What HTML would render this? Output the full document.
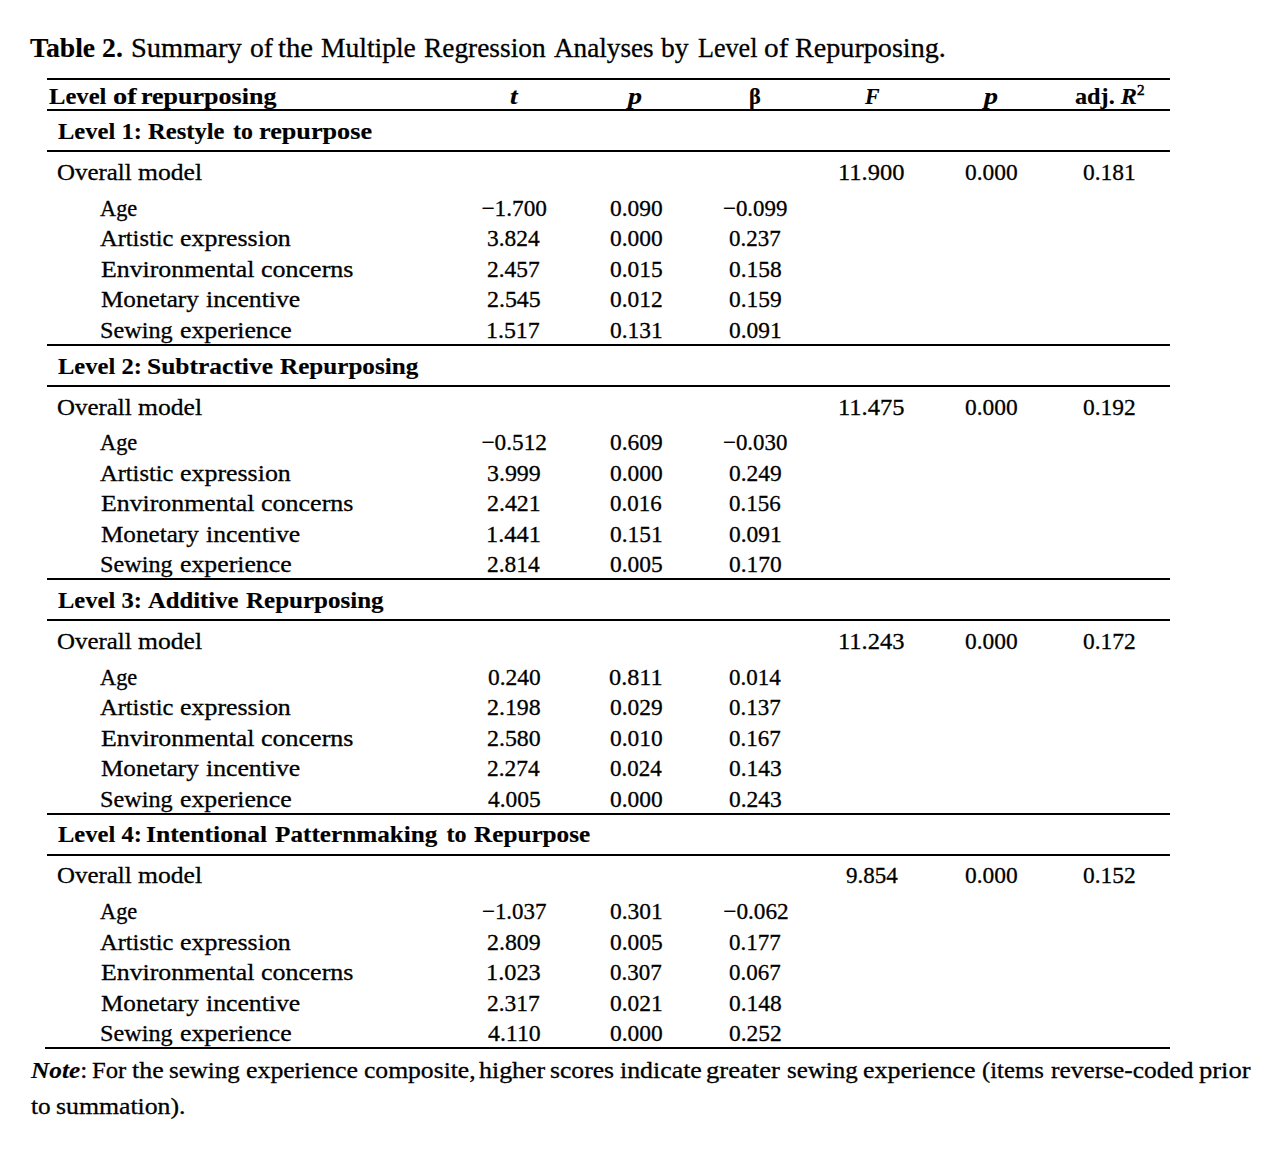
<!DOCTYPE html>
<html lang='en'><head><meta charset='utf-8'><title>Table 2</title><style>
html,body{margin:0;padding:0;background:#fff;}
body{width:1280px;height:1162px;position:relative;overflow:hidden;font-family:"Liberation Serif",serif;color:#000;}
.t{position:absolute;white-space:nowrap;line-height:1;transform-origin:0 0;display:block;-webkit-text-stroke:0.3px #000;}
.t b{-webkit-text-stroke:0.15px #000;}
.ln{position:absolute;height:2px;background:#000;}
.sup{font-size:0.625em;position:relative;top:-0.59em;line-height:0;font-weight:normal;-webkit-text-stroke:0.55px #000;}
</style></head><body>
<div class='ln' style='left:47px;top:78px;width:1123px'></div>
<div class='ln' style='left:47px;top:109px;width:1123px'></div>
<div class='ln' style='left:47px;top:150px;width:1123px'></div>
<div class='ln' style='left:47px;top:385px;width:1123px'></div>
<div class='ln' style='left:47px;top:619px;width:1123px'></div>
<div class='ln' style='left:47px;top:854px;width:1123px'></div>
<div class='ln' style='left:47px;top:344px;width:1123px'></div>
<div class='ln' style='left:47px;top:578px;width:1123px'></div>
<div class='ln' style='left:47px;top:813px;width:1123px'></div>
<div class='ln' style='left:45px;top:1047px;width:1125px'></div>
<div class='t' style='left:30.39px;top:35.00px;font-size:27.0px;transform:scaleX(1.0250);'><b>Table 2.</b></div>
<div class='t' style='left:131.20px;top:35.00px;font-size:27.0px;transform:scaleX(1.0534);'>Summary</div>
<div class='t' style='left:249.60px;top:35.00px;font-size:27.0px;transform:scaleX(1.0222);'>of</div>
<div class='t' style='left:278.20px;top:35.00px;font-size:27.0px;transform:scaleX(1.0606);'>the</div>
<div class='t' style='left:321.20px;top:35.00px;font-size:27.0px;transform:scaleX(1.0194);'>Multiple</div>
<div class='t' style='left:424.00px;top:35.00px;font-size:27.0px;transform:scaleX(1.0135);'>Regression</div>
<div class='t' style='left:554.20px;top:35.00px;font-size:27.0px;transform:scaleX(1.0063);'>Analyses</div>
<div class='t' style='left:661.40px;top:35.00px;font-size:27.0px;transform:scaleX(1.0223);'>by</div>
<div class='t' style='left:697.99px;top:35.00px;font-size:27.0px;transform:scaleX(0.9664);'>Level</div>
<div class='t' style='left:763.75px;top:35.00px;font-size:27.0px;transform:scaleX(1.0859);'>of</div>
<div class='t' style='left:794.60px;top:35.00px;font-size:27.0px;transform:scaleX(1.0419);'>Repurposing.</div>
<div class='t' style='left:49.19px;top:84.00px;font-size:24.0px;transform:scaleX(1.0254);'><b>Level</b></div>
<div class='t' style='left:113.19px;top:84.00px;font-size:24.0px;transform:scaleX(1.1815);'><b>of</b></div>
<div class='t' style='left:140.80px;top:84.00px;font-size:24.0px;transform:scaleX(1.0839);'><b>repurposing</b></div>
<div class='t' style='left:509.70px;top:84.00px;font-size:24.0px;transform:scaleX(1.1391);'><b><i>t</i></b></div>
<div class='t' style='left:628.00px;top:84.00px;font-size:24.0px;transform:scaleX(1.1667);'><b><i>p</i></b></div>
<div class='t' style='left:749.40px;top:84.00px;font-size:24.0px;transform:scaleX(0.9323);'><b>β</b></div>
<div class='t' style='left:865.00px;top:84.00px;font-size:24.0px;transform:scaleX(0.9116);'><b><i>F</i></b></div>
<div class='t' style='left:983.70px;top:84.00px;font-size:24.0px;transform:scaleX(1.1667);'><b><i>p</i></b></div>
<div class='t' style='left:1075.25px;top:84.00px;font-size:24.0px;transform:scaleX(1.0093);'><b>adj. <i>R</i><span class='sup'>2</span></b></div>
<div class='t' style='left:57.79px;top:119.00px;font-size:24.0px;transform:scaleX(1.0227);'><b>Level 1:</b></div>
<div class='t' style='left:148.20px;top:119.00px;font-size:24.0px;transform:scaleX(1.0236);'><b>Restyle</b></div>
<div class='t' style='left:233.19px;top:119.00px;font-size:24.0px;transform:scaleX(0.9909);'><b>to</b></div>
<div class='t' style='left:259.00px;top:119.00px;font-size:24.0px;transform:scaleX(1.0912);'><b>repurpose</b></div>
<div class='t' style='left:56.99px;top:160.00px;font-size:24.0px;transform:scaleX(1.0368);'>Overall</div>
<div class='t' style='left:138.00px;top:160.00px;font-size:24.0px;transform:scaleX(1.0667);'>model</div>
<div class='t' style='left:838.46px;top:161.00px;font-size:23.25px;transform:scaleX(1.0533);'>11.900</div>
<div class='t' style='left:964.54px;top:161.00px;font-size:23.25px;transform:scaleX(1.0077);'>0.000</div>
<div class='t' style='left:1083.14px;top:161.00px;font-size:23.25px;transform:scaleX(1.0077);'>0.181</div>
<div class='t' style='left:99.81px;top:196.00px;font-size:24.0px;transform:scaleX(0.9307);'>Age</div>
<div class='t' style='left:481.49px;top:197.00px;font-size:23.25px;'>−1.700</div>
<div class='t' style='left:609.54px;top:197.00px;font-size:23.25px;transform:scaleX(1.0077);'>0.090</div>
<div class='t' style='left:723.30px;top:197.00px;font-size:23.25px;transform:scaleX(0.9843);'>−0.099</div>
<div class='t' style='left:99.80px;top:226.00px;font-size:24.0px;transform:scaleX(1.0195);'>Artistic</div>
<div class='t' style='left:179.59px;top:226.00px;font-size:24.0px;transform:scaleX(1.0794);'>expression</div>
<div class='t' style='left:487.36px;top:227.00px;font-size:23.25px;transform:scaleX(1.0077);'>3.824</div>
<div class='t' style='left:609.54px;top:227.00px;font-size:23.25px;transform:scaleX(1.0077);'>0.000</div>
<div class='t' style='left:729.15px;top:227.00px;font-size:23.25px;transform:scaleX(0.9887);'>0.237</div>
<div class='t' style='left:101.20px;top:257.00px;font-size:24.0px;transform:scaleX(1.0754);'>Environmental</div>
<div class='t' style='left:260.78px;top:257.00px;font-size:24.0px;transform:scaleX(1.0835);'>concerns</div>
<div class='t' style='left:487.36px;top:258.00px;font-size:23.25px;transform:scaleX(1.0077);'>2.457</div>
<div class='t' style='left:609.54px;top:258.00px;font-size:23.25px;transform:scaleX(1.0077);'>0.015</div>
<div class='t' style='left:729.14px;top:258.00px;font-size:23.25px;transform:scaleX(1.0077);'>0.158</div>
<div class='t' style='left:101.20px;top:287.00px;font-size:24.0px;transform:scaleX(1.0481);'>Monetary</div>
<div class='t' style='left:205.80px;top:287.00px;font-size:24.0px;transform:scaleX(1.0709);'>incentive</div>
<div class='t' style='left:487.33px;top:288.00px;font-size:23.25px;transform:scaleX(1.0270);'>2.545</div>
<div class='t' style='left:609.54px;top:288.00px;font-size:23.25px;transform:scaleX(1.0077);'>0.012</div>
<div class='t' style='left:729.14px;top:288.00px;font-size:23.25px;transform:scaleX(1.0077);'>0.159</div>
<div class='t' style='left:99.78px;top:318.00px;font-size:24.0px;transform:scaleX(1.0087);'>Sewing</div>
<div class='t' style='left:179.59px;top:318.00px;font-size:24.0px;transform:scaleX(1.0741);'>experience</div>
<div class='t' style='left:486.32px;top:319.00px;font-size:23.25px;transform:scaleX(1.0274);'>1.517</div>
<div class='t' style='left:609.53px;top:319.00px;font-size:23.25px;transform:scaleX(1.0077);'>0.131</div>
<div class='t' style='left:729.14px;top:319.00px;font-size:23.25px;transform:scaleX(1.0077);'>0.091</div>
<div class='t' style='left:57.79px;top:354.00px;font-size:24.0px;transform:scaleX(1.0227);'><b>Level 2:</b></div>
<div class='t' style='left:147.19px;top:354.00px;font-size:24.0px;transform:scaleX(1.0620);'><b>Subtractive</b></div>
<div class='t' style='left:280.00px;top:354.00px;font-size:24.0px;transform:scaleX(1.0466);'><b>Repurposing</b></div>
<div class='t' style='left:56.99px;top:395.00px;font-size:24.0px;transform:scaleX(1.0368);'>Overall</div>
<div class='t' style='left:138.00px;top:395.00px;font-size:24.0px;transform:scaleX(1.0667);'>model</div>
<div class='t' style='left:838.46px;top:396.00px;font-size:23.25px;transform:scaleX(1.0533);'>11.475</div>
<div class='t' style='left:964.54px;top:396.00px;font-size:23.25px;transform:scaleX(1.0077);'>0.000</div>
<div class='t' style='left:1083.14px;top:396.00px;font-size:23.25px;transform:scaleX(1.0077);'>0.192</div>
<div class='t' style='left:99.81px;top:430.00px;font-size:24.0px;transform:scaleX(0.9307);'>Age</div>
<div class='t' style='left:481.50px;top:431.00px;font-size:23.25px;'>−0.512</div>
<div class='t' style='left:609.54px;top:431.00px;font-size:23.25px;transform:scaleX(1.0077);'>0.609</div>
<div class='t' style='left:723.30px;top:431.00px;font-size:23.25px;transform:scaleX(0.9843);'>−0.030</div>
<div class='t' style='left:99.80px;top:461.00px;font-size:24.0px;transform:scaleX(1.0195);'>Artistic</div>
<div class='t' style='left:179.59px;top:461.00px;font-size:24.0px;transform:scaleX(1.0794);'>expression</div>
<div class='t' style='left:487.33px;top:462.00px;font-size:23.25px;transform:scaleX(1.0270);'>3.999</div>
<div class='t' style='left:609.54px;top:462.00px;font-size:23.25px;transform:scaleX(1.0077);'>0.000</div>
<div class='t' style='left:729.14px;top:462.00px;font-size:23.25px;transform:scaleX(1.0077);'>0.249</div>
<div class='t' style='left:101.20px;top:491.00px;font-size:24.0px;transform:scaleX(1.0754);'>Environmental</div>
<div class='t' style='left:260.78px;top:491.00px;font-size:24.0px;transform:scaleX(1.0835);'>concerns</div>
<div class='t' style='left:487.33px;top:492.00px;font-size:23.25px;transform:scaleX(1.0274);'>2.421</div>
<div class='t' style='left:609.54px;top:492.00px;font-size:23.25px;transform:scaleX(0.9887);'>0.016</div>
<div class='t' style='left:729.15px;top:492.00px;font-size:23.25px;transform:scaleX(0.9887);'>0.156</div>
<div class='t' style='left:101.20px;top:522.00px;font-size:24.0px;transform:scaleX(1.0481);'>Monetary</div>
<div class='t' style='left:205.80px;top:522.00px;font-size:24.0px;transform:scaleX(1.0709);'>incentive</div>
<div class='t' style='left:486.28px;top:523.00px;font-size:23.25px;transform:scaleX(1.0480);'>1.441</div>
<div class='t' style='left:609.53px;top:523.00px;font-size:23.25px;transform:scaleX(1.0077);'>0.151</div>
<div class='t' style='left:729.14px;top:523.00px;font-size:23.25px;transform:scaleX(1.0077);'>0.091</div>
<div class='t' style='left:99.78px;top:552.00px;font-size:24.0px;transform:scaleX(1.0087);'>Sewing</div>
<div class='t' style='left:179.59px;top:552.00px;font-size:24.0px;transform:scaleX(1.0741);'>experience</div>
<div class='t' style='left:487.36px;top:553.00px;font-size:23.25px;transform:scaleX(1.0077);'>2.814</div>
<div class='t' style='left:609.54px;top:553.00px;font-size:23.25px;transform:scaleX(1.0077);'>0.005</div>
<div class='t' style='left:729.14px;top:553.00px;font-size:23.25px;transform:scaleX(1.0077);'>0.170</div>
<div class='t' style='left:57.79px;top:588.00px;font-size:24.0px;transform:scaleX(1.0227);'><b>Level 3:</b></div>
<div class='t' style='left:148.20px;top:588.00px;font-size:24.0px;transform:scaleX(1.0271);'><b>Additive</b></div>
<div class='t' style='left:246.00px;top:588.00px;font-size:24.0px;transform:scaleX(1.0421);'><b>Repurposing</b></div>
<div class='t' style='left:56.99px;top:629.00px;font-size:24.0px;transform:scaleX(1.0368);'>Overall</div>
<div class='t' style='left:138.00px;top:629.00px;font-size:24.0px;transform:scaleX(1.0667);'>model</div>
<div class='t' style='left:838.46px;top:630.00px;font-size:23.25px;transform:scaleX(1.0533);'>11.243</div>
<div class='t' style='left:964.54px;top:630.00px;font-size:23.25px;transform:scaleX(1.0077);'>0.000</div>
<div class='t' style='left:1083.14px;top:630.00px;font-size:23.25px;transform:scaleX(1.0077);'>0.172</div>
<div class='t' style='left:99.81px;top:665.00px;font-size:24.0px;transform:scaleX(0.9307);'>Age</div>
<div class='t' style='left:488.35px;top:666.00px;font-size:23.25px;transform:scaleX(1.0077);'>0.240</div>
<div class='t' style='left:608.54px;top:666.00px;font-size:23.25px;transform:scaleX(1.0442);'>0.811</div>
<div class='t' style='left:729.15px;top:666.00px;font-size:23.25px;transform:scaleX(0.9890);'>0.014</div>
<div class='t' style='left:99.80px;top:695.00px;font-size:24.0px;transform:scaleX(1.0195);'>Artistic</div>
<div class='t' style='left:179.59px;top:695.00px;font-size:24.0px;transform:scaleX(1.0794);'>expression</div>
<div class='t' style='left:487.33px;top:696.00px;font-size:23.25px;transform:scaleX(1.0270);'>2.198</div>
<div class='t' style='left:609.54px;top:696.00px;font-size:23.25px;transform:scaleX(1.0077);'>0.029</div>
<div class='t' style='left:729.15px;top:696.00px;font-size:23.25px;transform:scaleX(0.9887);'>0.137</div>
<div class='t' style='left:101.20px;top:726.00px;font-size:24.0px;transform:scaleX(1.0754);'>Environmental</div>
<div class='t' style='left:260.78px;top:726.00px;font-size:24.0px;transform:scaleX(1.0835);'>concerns</div>
<div class='t' style='left:487.33px;top:727.00px;font-size:23.25px;transform:scaleX(1.0270);'>2.580</div>
<div class='t' style='left:609.54px;top:727.00px;font-size:23.25px;transform:scaleX(1.0077);'>0.010</div>
<div class='t' style='left:729.15px;top:727.00px;font-size:23.25px;transform:scaleX(0.9887);'>0.167</div>
<div class='t' style='left:101.20px;top:756.00px;font-size:24.0px;transform:scaleX(1.0481);'>Monetary</div>
<div class='t' style='left:205.80px;top:756.00px;font-size:24.0px;transform:scaleX(1.0709);'>incentive</div>
<div class='t' style='left:487.36px;top:757.00px;font-size:23.25px;transform:scaleX(1.0077);'>2.274</div>
<div class='t' style='left:609.55px;top:757.00px;font-size:23.25px;transform:scaleX(0.9890);'>0.024</div>
<div class='t' style='left:729.14px;top:757.00px;font-size:23.25px;transform:scaleX(1.0077);'>0.143</div>
<div class='t' style='left:99.78px;top:787.00px;font-size:24.0px;transform:scaleX(1.0087);'>Sewing</div>
<div class='t' style='left:179.59px;top:787.00px;font-size:24.0px;transform:scaleX(1.0741);'>experience</div>
<div class='t' style='left:488.35px;top:788.00px;font-size:23.25px;transform:scaleX(1.0077);'>4.005</div>
<div class='t' style='left:609.54px;top:788.00px;font-size:23.25px;transform:scaleX(1.0077);'>0.000</div>
<div class='t' style='left:729.14px;top:788.00px;font-size:23.25px;transform:scaleX(1.0077);'>0.243</div>
<div class='t' style='left:57.79px;top:822.00px;font-size:24.0px;transform:scaleX(1.0227);'><b>Level 4:</b></div>
<div class='t' style='left:146.39px;top:822.00px;font-size:24.0px;transform:scaleX(1.0693);'><b>Intentional</b></div>
<div class='t' style='left:275.40px;top:822.00px;font-size:24.0px;transform:scaleX(1.0501);'><b>Patternmaking</b></div>
<div class='t' style='left:446.60px;top:822.00px;font-size:24.0px;'><b>to</b></div>
<div class='t' style='left:474.00px;top:822.00px;font-size:24.0px;transform:scaleX(1.0500);'><b>Repurpose</b></div>
<div class='t' style='left:56.99px;top:863.00px;font-size:24.0px;transform:scaleX(1.0368);'>Overall</div>
<div class='t' style='left:138.00px;top:863.00px;font-size:24.0px;transform:scaleX(1.0667);'>model</div>
<div class='t' style='left:846.36px;top:864.00px;font-size:23.25px;transform:scaleX(0.9890);'>9.854</div>
<div class='t' style='left:964.54px;top:864.00px;font-size:23.25px;transform:scaleX(1.0077);'>0.000</div>
<div class='t' style='left:1083.14px;top:864.00px;font-size:23.25px;transform:scaleX(1.0077);'>0.152</div>
<div class='t' style='left:99.81px;top:899.00px;font-size:24.0px;transform:scaleX(0.9307);'>Age</div>
<div class='t' style='left:481.50px;top:900.00px;font-size:23.25px;transform:scaleX(0.9843);'>−1.037</div>
<div class='t' style='left:609.53px;top:900.00px;font-size:23.25px;transform:scaleX(1.0077);'>0.301</div>
<div class='t' style='left:723.30px;top:900.00px;font-size:23.25px;'>−0.062</div>
<div class='t' style='left:99.80px;top:930.00px;font-size:24.0px;transform:scaleX(1.0195);'>Artistic</div>
<div class='t' style='left:179.59px;top:930.00px;font-size:24.0px;transform:scaleX(1.0794);'>expression</div>
<div class='t' style='left:487.33px;top:931.00px;font-size:23.25px;transform:scaleX(1.0270);'>2.809</div>
<div class='t' style='left:609.54px;top:931.00px;font-size:23.25px;transform:scaleX(1.0077);'>0.005</div>
<div class='t' style='left:729.15px;top:931.00px;font-size:23.25px;transform:scaleX(0.9887);'>0.177</div>
<div class='t' style='left:101.20px;top:960.00px;font-size:24.0px;transform:scaleX(1.0754);'>Environmental</div>
<div class='t' style='left:260.78px;top:960.00px;font-size:24.0px;transform:scaleX(1.0835);'>concerns</div>
<div class='t' style='left:486.28px;top:961.00px;font-size:23.25px;transform:scaleX(1.0472);'>1.023</div>
<div class='t' style='left:609.54px;top:961.00px;font-size:23.25px;transform:scaleX(0.9887);'>0.307</div>
<div class='t' style='left:729.15px;top:961.00px;font-size:23.25px;transform:scaleX(0.9887);'>0.067</div>
<div class='t' style='left:101.20px;top:991.00px;font-size:24.0px;transform:scaleX(1.0481);'>Monetary</div>
<div class='t' style='left:205.80px;top:991.00px;font-size:24.0px;transform:scaleX(1.0709);'>incentive</div>
<div class='t' style='left:487.36px;top:992.00px;font-size:23.25px;transform:scaleX(1.0077);'>2.317</div>
<div class='t' style='left:609.53px;top:992.00px;font-size:23.25px;transform:scaleX(1.0077);'>0.021</div>
<div class='t' style='left:729.14px;top:992.00px;font-size:23.25px;transform:scaleX(1.0077);'>0.148</div>
<div class='t' style='left:99.78px;top:1021.00px;font-size:24.0px;transform:scaleX(1.0087);'>Sewing</div>
<div class='t' style='left:179.59px;top:1021.00px;font-size:24.0px;transform:scaleX(1.0741);'>experience</div>
<div class='t' style='left:488.35px;top:1022.00px;font-size:23.25px;transform:scaleX(1.0245);'>4.110</div>
<div class='t' style='left:609.54px;top:1022.00px;font-size:23.25px;transform:scaleX(1.0077);'>0.000</div>
<div class='t' style='left:729.14px;top:1022.00px;font-size:23.25px;transform:scaleX(1.0077);'>0.252</div>
<div class='t' style='left:31.19px;top:1058.00px;font-size:24.0px;transform:scaleX(1.0548);'><b><i>Note</i></b>:</div>
<div class='t' style='left:92.19px;top:1058.00px;font-size:24.0px;transform:scaleX(1.0261);'>For</div>
<div class='t' style='left:132.00px;top:1058.00px;font-size:24.0px;transform:scaleX(1.0782);'>the</div>
<div class='t' style='left:169.20px;top:1058.00px;font-size:24.0px;transform:scaleX(1.0414);'>sewing</div>
<div class='t' style='left:245.99px;top:1058.00px;font-size:24.0px;transform:scaleX(1.0778);'>experience</div>
<div class='t' style='left:364.18px;top:1058.00px;font-size:24.0px;transform:scaleX(1.0666);'>composite,</div>
<div class='t' style='left:479.40px;top:1058.00px;font-size:24.0px;transform:scaleX(1.0798);'>higher</div>
<div class='t' style='left:550.39px;top:1058.00px;font-size:24.0px;transform:scaleX(1.0672);'>scores</div>
<div class='t' style='left:620.00px;top:1058.00px;font-size:24.0px;transform:scaleX(1.0768);'>indicate</div>
<div class='t' style='left:705.99px;top:1058.00px;font-size:24.0px;transform:scaleX(1.1080);'>greater</div>
<div class='t' style='left:787.18px;top:1058.00px;font-size:24.0px;transform:scaleX(1.0414);'>sewing</div>
<div class='t' style='left:862.59px;top:1058.00px;font-size:24.0px;transform:scaleX(1.0817);'>experience</div>
<div class='t' style='left:981.98px;top:1058.00px;font-size:24.0px;transform:scaleX(1.0306);'>(items</div>
<div class='t' style='left:1050.60px;top:1058.00px;font-size:24.0px;transform:scaleX(1.0581);'>reverse-coded</div>
<div class='t' style='left:1199.41px;top:1058.00px;font-size:24.0px;transform:scaleX(1.1063);'>prior</div>
<div class='t' style='left:31.18px;top:1094.00px;font-size:24.0px;transform:scaleX(1.0507);'>to</div>
<div class='t' style='left:55.78px;top:1094.00px;font-size:24.0px;transform:scaleX(1.0728);'>summation).</div>
</body></html>
